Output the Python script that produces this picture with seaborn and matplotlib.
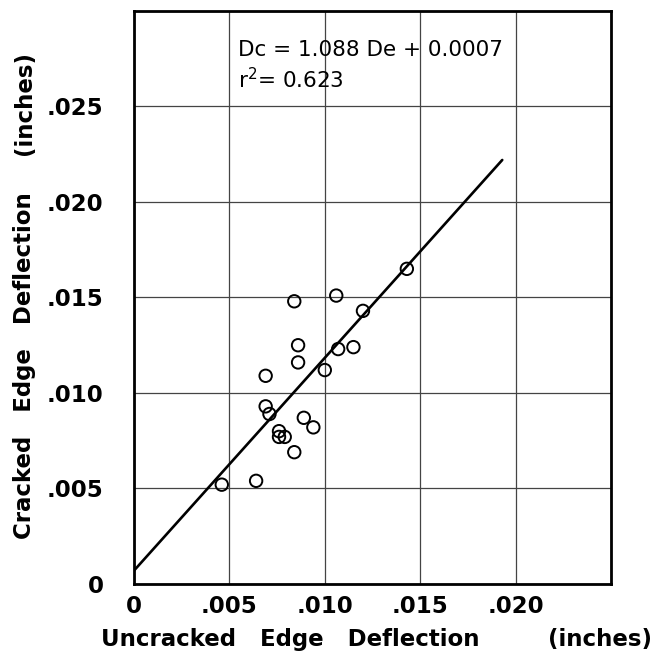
import matplotlib
matplotlib.use("Agg")
import matplotlib.pyplot as plt
import seaborn as sns
import pandas as pd

# uncracked (De) vs cracked (Dc) edge deflection, inches
uncracked = [0.0084, 0.0106, 0.0120, 0.0086, 0.0107, 0.0115, 0.0086, 0.0100, 0.0069, 0.0069,
             0.0071, 0.0089, 0.0094, 0.0076, 0.0076, 0.0079, 0.0084, 0.0046, 0.0064, 0.0143]
cracked = [0.0148, 0.0151, 0.0143, 0.0125, 0.0123, 0.0124, 0.0116, 0.0112, 0.0109, 0.0093,
           0.0089, 0.0087, 0.0082, 0.0080, 0.0077, 0.0077, 0.0069, 0.0052, 0.0054, 0.0165]

# regression line end points as drawn
fit_x = [0.0, 0.0193]
fit_y = [0.0007, 0.0222]

x_ticks = [0, 0.005, 0.010, 0.015, 0.020]
x_labels = ['0', '.005', '.010', '.015', '.020']
y_ticks = [0, 0.005, 0.010, 0.015, 0.020, 0.025]
y_labels = ['0', '.005', '.010', '.015', '.020', '.025']

df = pd.DataFrame({'De': uncracked, 'Dc': cracked})
fit = pd.DataFrame({'De': fit_x, 'Dc': fit_y})

sns.set_style('white')
plt.rcParams['font.family'] = ['DejaVu Sans']
plt.rcParams['text.color'] = 'black'
plt.rcParams['xtick.color'] = 'black'
plt.rcParams['ytick.color'] = 'black'

fig = plt.figure(figsize=(6.53, 6.63), dpi=100)
ax = fig.add_axes([0.2052, 0.1192, 0.7305, 0.8642])

sns.lineplot(data=fit, x='De', y='Dc', color='black', linewidth=1.9, ax=ax)
sns.scatterplot(data=df, x='De', y='Dc', marker='o', s=80, facecolor='none',
                edgecolor='black', linewidth=1.4, ax=ax, zorder=3)

ax.set_xlim(0, 0.025)
ax.set_ylim(0, 0.030)
ax.set_xticks(x_ticks + [0.025])
ax.set_xticklabels(x_labels + [''], fontweight='bold')
ax.set_yticks(y_ticks + [0.030])
ax.set_yticklabels(y_labels + [''], fontweight='bold')
ax.tick_params(axis='both', length=0, labelsize=16.5)
ax.tick_params(axis='x', pad=8)
ax.tick_params(axis='y', pad=22)
ax.grid(True, color='#444444', linewidth=0.9)
for s in ax.spines.values():
    s.set_visible(True)
    s.set_color('black')
    s.set_linewidth(2)

ax.set_xlabel('')
ax.set_ylabel('')

ax.text(0.00545, 0.02796, 'Dc = 1.088 De + 0.0007', fontsize=15.5, va='center', ha='left')
ax.text(0.00545, 0.02639, 'r$^2$= 0.623', fontsize=15.5, va='center', ha='left')

fig.text(0.445, 0.036, 'Uncracked   Edge   Deflection', fontsize=16.5, fontweight='bold',
         ha='center', va='center')
fig.text(0.919, 0.036, '(inches)', fontsize=16.5, fontweight='bold', ha='center', va='center')
fig.text(0.037, 0.449, 'Cracked   Edge   Deflection', fontsize=16.5, fontweight='bold',
         ha='center', va='center', rotation=90)
fig.text(0.037, 0.845, '(inches)', fontsize=16.5, fontweight='bold', ha='center', va='center',
         rotation=90)

fig.savefig('out.png', dpi=100)
